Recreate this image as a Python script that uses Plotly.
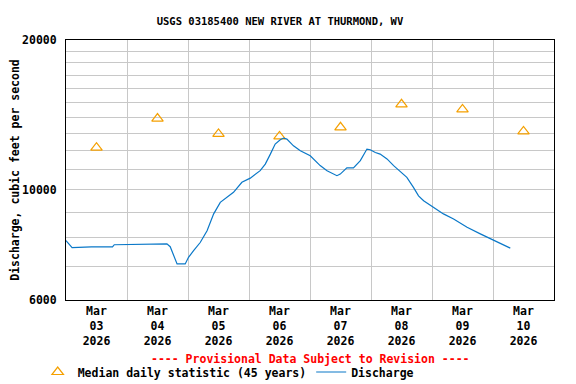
import pandas as pd
import plotly.graph_objects as go

# ---- data ----
start = "2026-03-03 00:00"
discharge_hours = [0, 2.4, 10, 18.3, 19, 30, 39.7, 41, 43.7, 46.9, 48.2, 50.2, 52.8, 55.5, 58.1,
                   60.7, 63.3, 65.9, 69.2, 72.5, 76.4, 78.4, 80.4, 82.3, 84.3, 85.6, 86.9,
                   89.5, 92.2, 96.1, 100, 102.7, 106.6, 107.9, 110.5, 113.1, 115.8, 118.4,
                   119.7, 121.7, 123.6, 126.3, 128.9, 131.5, 134.1, 136.7, 138.7, 140.7,
                   144.6, 148.5, 152.5, 157.8, 163, 168.2, 172.2, 174.8]
discharge_cfs = [7900, 7650, 7670, 7670, 7750, 7760, 7780, 7680, 7090, 7090, 7310, 7540, 7830, 8270, 8940,
                 9430, 9650, 9880, 10350, 10550, 10920, 11260, 11790, 12350, 12600, 12700, 12640,
                 12250, 11980, 11700, 11180, 10920, 10670, 10750, 11060, 11060, 11440, 12070,
                 12030, 11880, 11790, 11530, 11180, 10880, 10590, 10110, 9720, 9500,
                 9210, 8940, 8730, 8400, 8150, 7920, 7720, 7630]

median_dates = ["2026-03-03 12:00", "2026-03-04 12:00", "2026-03-05 12:00", "2026-03-06 12:00",
                "2026-03-07 12:00", "2026-03-08 12:00", "2026-03-09 12:00", "2026-03-10 12:00"]
median_cfs = [12150, 13900, 12950, 12800, 13350, 14850, 14500, 13100]

tick_dates = median_dates
tick_labels = ["Mar<br>03<br>2026", "Mar<br>04<br>2026", "Mar<br>05<br>2026", "Mar<br>06<br>2026",
               "Mar<br>07<br>2026", "Mar<br>08<br>2026", "Mar<br>09<br>2026", "Mar<br>10<br>2026"]
day_lines = ["2026-03-04", "2026-03-05", "2026-03-06", "2026-03-07",
             "2026-03-08", "2026-03-09", "2026-03-10"]
y_ticks = [6000, 10000, 20000]
y_minor = [7000, 8000, 9000, 11000, 12000, 13000, 14000, 15000, 16000, 17000, 18000, 19000]

title = "USGS 03185400 NEW RIVER AT THURMOND, WV"
y_title = "Discharge, cubic feet per second"
provisional = "---- Provisional Data Subject to Revision ----"

# ---- figure ----
t = pd.Timestamp(start) + pd.to_timedelta(discharge_hours, unit="h")
FONT = "DejaVu Sans Mono"
GRID = "#c8c8c8"
W, H = 568, 376  # page body adds an 8px margin

fig = go.Figure()
fig.add_trace(go.Scatter(
    x=median_dates, y=median_cfs, mode="markers",
    name="Median daily statistic (45 years)",
    marker=dict(symbol="triangle-up-open", size=10, color="#f5a000", line=dict(width=1.2)),
))
fig.add_trace(go.Scatter(
    x=t, y=discharge_cfs, mode="lines", name="Discharge",
    line=dict(color="#0a78c8", width=1.2),
))

fig.update_layout(
    width=W, height=H,
    margin=dict(l=58, r=22, t=32, b=84, autoexpand=False),
    paper_bgcolor="white", plot_bgcolor="white",
    font=dict(family=FONT, size=11.5, color="black", weight="bold"),
    title=dict(text=title, x=272 / W, xanchor="center", y=1 - 13 / H, yanchor="middle",
               yref="container", font=dict(family=FONT, size=10.5, weight="bold")),
    showlegend=True,
    legend=dict(orientation="h", x=-0.058, xanchor="left", y=-0.277, yanchor="middle",
                font=dict(family=FONT, size=11.5, weight="bold"),
                bgcolor="rgba(0,0,0,0)", itemwidth=30, tracegroupgap=0),
)
fig.update_xaxes(
    type="date", range=["2026-03-03 00:00", "2026-03-11 00:00"], automargin=False,
    tickmode="array", tickvals=tick_dates, ticktext=tick_labels, ticks="",
    showgrid=False, zeroline=False,
    showline=True, linecolor="black", linewidth=1, mirror=True,
    minor=dict(tickmode="array", tickvals=day_lines, showgrid=True, gridcolor=GRID, gridwidth=1, ticks=""),
)
fig.update_yaxes(
    type="log", range=[3.77815, 4.30103], automargin=False,
    tickmode="array", tickvals=y_ticks, ticktext=[str(v) for v in y_ticks], ticks="",
    ticklabelstandoff=6,
    showgrid=True, gridcolor=GRID, gridwidth=1, zeroline=False,
    showline=True, linecolor="black", linewidth=1, mirror=True,
    minor=dict(tickmode="array", tickvals=y_minor, showgrid=True, gridcolor=GRID, gridwidth=1, ticks=""),
    title=dict(text=y_title, standoff=7, font=dict(family=FONT, size=11.5, weight="bold")),
)
fig.add_annotation(text=provisional, xref="paper", yref="paper", x=0.5, y=-0.227,
                   xanchor="center", yanchor="middle", showarrow=False,
                   font=dict(family=FONT, size=11.5, color="red", weight="bold"))

fig.write_html("out.html")
